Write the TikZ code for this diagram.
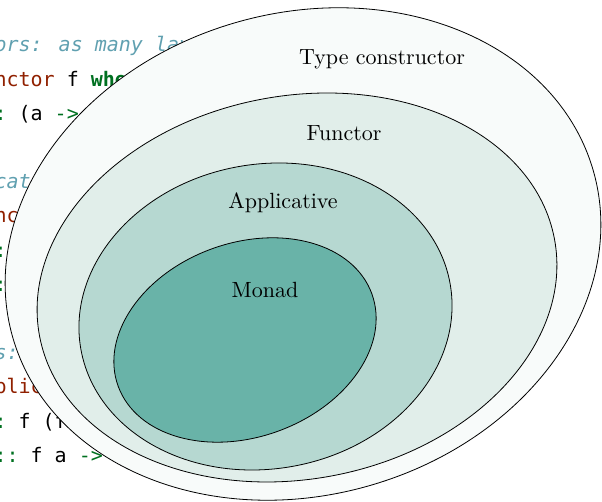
\documentclass[tikz,border=0pt]{standalone}
\usepackage{fontspec}
\newfontfamily\codefont{DejaVu Sans Mono}
\newfontfamily\labelfont{lmroman10-regular.otf}
\definecolor{kwgreen}{HTML}{007020}
\definecolor{tyred}{HTML}{902000}
\definecolor{cmblue}{HTML}{60A0B0}
\definecolor{fillA}{HTML}{F8FBFA}
\definecolor{fillB}{HTML}{E1EEEA}
\definecolor{fillC}{HTML}{B6D8D1}
\definecolor{fillD}{HTML}{69B3A8}
% Haskell token colouring
\newcommand\hkw[1]{\textcolor{kwgreen}{\bfseries #1}}
\newcommand\hty[1]{\textcolor{tyred}{#1}}
\newcommand\hop[1]{\textcolor{kwgreen}{#1}}
\newcommand\hcm[1]{\textcolor{cmblue}{\itshape #1}}
\tikzset{
  codeline/.style={anchor=base west, inner sep=0pt, font=\codefont\fontsize{20}{24}\selectfont},
  setring/.style={draw=black, line width=0.8pt},
  setlabel/.style={anchor=base, inner sep=0pt, font=\labelfont\fontsize{22}{26}\selectfont}
}
\begin{document}
\begin{tikzpicture}[x=1pt,y=1pt]
\useasboundingbox (0,0) rectangle (602,502);
\clip (0,0) rectangle (602,502);
% source code behind the diagram
\node[codeline] (c1)  at (-102,450.0) {\hcm{-{}- Functors: as many layers}};
\node[codeline] (c2)  at (-102,415.8) {\hkw{class}~\hty{Functor}~f~\hkw{where}};
\node[codeline] (c3)  at (-102,381.6) {~~fmap~\hop{::}~(a~\hop{->}~b)~\hop{->}~f~a};
\node[codeline] (c5)  at (-102,313.2) {\hcm{-{}- Applicatives:}};
\node[codeline] (c6)  at (-102,279.0) {\hkw{class}~\hty{Functor}~f~\hop{=>}~\hty{Applicative}~f};
\node[codeline] (c7)  at (-102,244.8) {~~pure~\hop{::}~a~\hop{->}~f~a};
\node[codeline] (c8)  at (-102,210.6) {~~(<*>)~\hop{::}~f~(a~\hop{->}~b)};
\node[codeline] (c10) at (-102,142.2) {\hcm{-{}- Monads:}};
\node[codeline] (c11) at (-102,108.0) {\hkw{class}~\hty{Applicative}~f~\hop{=>}~\hty{Monad}~f};
\node[codeline] (c12) at (-102,73.8)  {~~join~\hop{::}~f~(f~a)~\hop{->}~f~a};
\node[codeline] (c13) at (-102,39.6)  {~~(>>=)~\hop{::}~f~a~\hop{->}~(a~\hop{->}~f~b)};
% nested sets
\draw[setring, fill=fillA, rotate around={16:(303,248)}] (303,248) ellipse [x radius=302pt, y radius=241pt];
\draw[setring, fill=fillB, rotate around={10.7:(297,214.5)}] (297,214.5) ellipse [x radius=262pt, y radius=191.6pt];
\draw[setring, fill=fillC, rotate around={10:(265.5,185.5)}] (265.5,185.5) ellipse [x radius=187.5pt, y radius=152.3pt];
\draw[setring, fill=fillD, rotate around={20:(245,162)}] (245,162) ellipse [x radius=135pt, y radius=97pt];
% set names
\node[setlabel] (tc)  at (382,437) {Type constructor};
\node[setlabel] (fun) at (344,361) {Functor};
\node[setlabel] (app) at (283,293) {Applicative};
\node[setlabel] (mon) at (265,204) {Monad};
\end{tikzpicture}
\end{document}
